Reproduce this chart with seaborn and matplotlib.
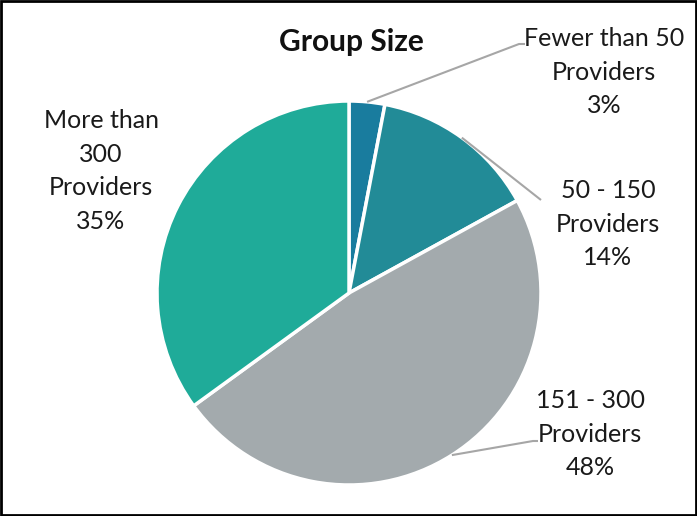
import numpy as np
import matplotlib
matplotlib.use("Agg")
import matplotlib.pyplot as plt
import seaborn as sns
from matplotlib.patches import Rectangle

# ---- data ----
categories = ["Fewer than 50\nProviders", "50 - 150\nProviders", "151 - 300\nProviders", "More than\n300\nProviders"]
values = [3, 14, 48, 35]
colors = ["#197c9e", "#228b97", "#a3aaad", "#1fab99"]
title = "Group Size"

sns.set_theme(style="white")
plt.rcParams['font.family'] = ['Lato', 'DejaVu Sans']

W, H = 697, 516
fig = plt.figure(figsize=(W / 100, H / 100), dpi=100)
ax = fig.add_axes([0, 0, 1, 1])

cx, cy, r = 349, H - 293, 192
wedges, _ = ax.pie(values, colors=sns.color_palette(colors), startangle=90, counterclock=False,
                   center=(cx, cy), radius=r,
                   wedgeprops=dict(edgecolor="white", linewidth=2.5))
ax.set_xlim(0, W)
ax.set_ylim(0, H)
ax.set_aspect("equal")
ax.axis("off")

# label layout (pixel positions, top-left origin)
label_pos = [(604, 72), (608, 224), (590, 434), (101, 171)]
leader_end = [(519, 44), (541, 200), (533, 441), None]
leader_tail = [(525, 44), None, (538, 441), None]

total = sum(values)
cum = 0
for i, v in enumerate(values):
    mid = cum + v / 2
    cum += v
    ang = np.deg2rad(90 - 360 * mid / total)
    ax_x, ax_y = cx + r * np.cos(ang), cy + r * np.sin(ang)
    txt = f"{categories[i]}\n{v}%"
    lx, ly = label_pos[i]
    ax.text(lx, H - ly, txt, ha="center", va="center", multialignment="center",
            fontsize=18, color="#1a1a1a", linespacing=1.55)
    if leader_end[i] is not None:
        ex, ey = leader_end[i]
        xs = [ax_x, ex]
        ys = [ax_y, H - ey]
        if leader_tail[i] is not None:
            xs.append(leader_tail[i][0])
            ys.append(H - leader_tail[i][1])
        ax.plot(xs, ys, color="#a6a6a6", linewidth=1.5, solid_capstyle="butt")

ax.text(351, H - 42, title, ha="center", va="center", fontsize=21.5, fontweight="bold", color="#111111")

fig.add_artist(Rectangle((0.0015, 0.002), 0.997, 0.996, transform=fig.transFigure,
                         fill=False, edgecolor="black", linewidth=2))

fig.savefig("out.png", dpi=100)
